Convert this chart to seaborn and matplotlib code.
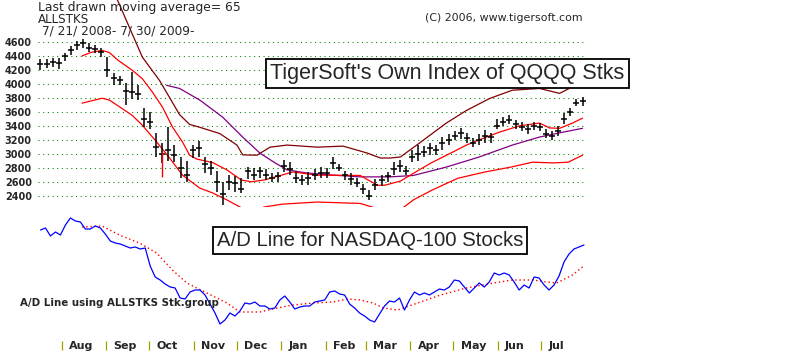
import pandas as pd
import matplotlib
matplotlib.use("Agg")
import matplotlib.pyplot as plt
import matplotlib.dates as mdates
import seaborn as sns

# --- price bars of the ALLSTKS index (about every 3 trading days) ---
bar_start, bar_end = '2008-07-17', '2009-07-30'
bar_close = [4280, 4290, 4310, 4300, 4400, 4480, 4560, 4580, 4520, 4500,
             4450, 4200, 4080, 4050, 3900, 3880, 3850, 3500, 3450, 3100,
             3000, 3050, 2980, 2800, 2700, 3050, 3080, 2850, 2800, 2600,
             2420, 2600, 2580, 2500, 2750, 2700, 2750, 2700, 2650, 2680,
             2820, 2780, 2650, 2620, 2650, 2700, 2730, 2720, 2870, 2800,
             2700, 2640, 2580, 2500, 2400, 2560, 2620, 2680, 2780, 2820,
             2750, 2950, 3000, 3030, 3080, 3050, 3150, 3200, 3260, 3300,
             3220, 3150, 3200, 3250, 3240, 3400, 3450, 3480, 3420, 3380,
             3350, 3400, 3380, 3280, 3250, 3330, 3500, 3600, 3720, 3750]
bar_high = [4350, 4360, 4370, 4370, 4440, 4540, 4620, 4650, 4580, 4560,
            4520, 4380, 4150, 4120, 4020, 4170, 3980, 3650, 3600, 3300,
            3150, 3380, 3120, 2950, 2900, 3120, 3190, 2950, 2900, 2750,
            2600, 2700, 2680, 2650, 2810, 2790, 2810, 2780, 2720, 2740,
            2910, 2880, 2760, 2700, 2740, 2780, 2810, 2790, 2950, 2860,
            2760, 2720, 2660, 2570, 2480, 2640, 2700, 2740, 2880, 2910,
            2820, 3050, 3120, 3110, 3150, 3130, 3240, 3280, 3330, 3370,
            3300, 3230, 3280, 3340, 3300, 3500, 3520, 3550, 3480, 3450,
            3430, 3460, 3440, 3350, 3320, 3400, 3580, 3660, 3790, 3820]
bar_low = [4200, 4230, 4240, 4220, 4330, 4420, 4490, 4510, 4460, 4440,
           4390, 4100, 3990, 3980, 3700, 3780, 3770, 3380, 3350, 2950,
           2870, 2900, 2880, 2650, 2600, 2940, 2950, 2720, 2700, 2450,
           2270, 2480, 2460, 2440, 2640, 2620, 2650, 2620, 2600, 2600,
           2740, 2700, 2580, 2550, 2560, 2620, 2650, 2650, 2780, 2750,
           2620, 2560, 2520, 2430, 2340, 2480, 2540, 2600, 2700, 2740,
           2700, 2880, 2900, 2960, 2990, 2980, 3060, 3120, 3200, 3210,
           3150, 3100, 3120, 3150, 3160, 3350, 3400, 3420, 3360, 3320,
           3290, 3340, 3320, 3230, 3200, 3260, 3420, 3540, 3680, 3680]

# red key-day bar
red_bar_date = ['2008-10-10']
red_bar_high = [3030]
red_bar_low = [2670]

# --- moving average and bands ---
ma_fast_dates = ['2008-08-15', '2008-08-21', '2008-08-29', '2008-09-03', '2008-09-09',
                 '2008-09-19', '2008-09-26', '2008-10-03', '2008-10-10', '2008-10-17',
                 '2008-10-24', '2008-10-29', '2008-11-03', '2008-11-14', '2008-11-24',
                 '2008-12-04', '2008-12-11', '2008-12-20', '2009-01-02', '2009-01-09',
                 '2009-01-26', '2009-02-25', '2009-03-09', '2009-03-14', '2009-03-25',
                 '2009-04-03', '2009-04-15', '2009-04-30', '2009-05-10', '2009-05-24',
                 '2009-06-02', '2009-06-16', '2009-06-30', '2009-07-07', '2009-07-14',
                 '2009-07-23', '2009-07-30']
ma_fast = [4400, 4450, 4480, 4450, 4340, 4195, 4075, 3885, 3670, 3385,
           3170, 2980, 2925, 2875, 2770, 2625, 2600, 2625, 2700, 2740,
           2695, 2690, 2550, 2550, 2610, 2720, 2865, 3020, 3125, 3240,
           3310, 3400, 3440, 3370, 3365, 3440, 3510]

ma_low_dates = ['2008-08-15', '2008-08-29', '2008-09-03', '2008-09-19', '2008-09-26',
                '2008-10-06', '2008-10-15', '2008-10-24', '2008-11-05', '2008-11-14',
                '2008-11-24', '2008-12-03', '2008-12-10', '2008-12-20', '2009-01-02',
                '2009-01-26', '2009-02-25', '2009-03-05', '2009-03-15', '2009-03-25',
                '2009-04-03', '2009-04-16', '2009-05-04', '2009-05-23', '2009-06-10',
                '2009-06-25', '2009-07-10', '2009-07-20', '2009-07-30']
ma_low = [3725, 3795, 3770, 3550, 3410, 3170, 2940, 2695, 2510, 2440,
          2340, 2240, 2150, 2240, 2280, 2310, 2290, 2240, 2180, 2200,
          2340, 2480, 2650, 2740, 2810, 2880, 2870, 2880, 2980]

ma_up_dates = ['2008-09-07', '2008-09-26', '2008-10-08', '2008-10-22', '2008-10-29',
               '2008-11-05', '2008-11-19', '2008-12-01', '2008-12-05', '2008-12-15',
               '2008-12-24', '2009-01-05', '2009-01-26', '2009-02-13', '2009-03-02',
               '2009-03-11', '2009-03-18', '2009-03-25', '2009-04-07', '2009-04-26',
               '2009-05-10', '2009-05-26', '2009-06-11', '2009-06-30', '2009-07-14',
               '2009-07-25', '2009-07-30']
ma_up = [5280, 4385, 4050, 3560, 3420, 3380, 3290, 3125, 2985, 2980,
         3095, 3125, 3095, 3110, 3010, 2940, 2940, 2955, 3150, 3440,
         3620, 3790, 3910, 3935, 3865, 3980, 4050]

ma65_dates = ['2008-10-13', '2008-10-22', '2008-11-05', '2008-11-21', '2008-12-05',
              '2008-12-17', '2008-12-28', '2009-01-05', '2009-01-19', '2009-02-06',
              '2009-02-25', '2009-03-18', '2009-04-03', '2009-04-26', '2009-05-19',
              '2009-06-11', '2009-06-30', '2009-07-14', '2009-07-30']
ma65 = [3980, 3935, 3770, 3525, 3240, 3010, 2865, 2770, 2725, 2695,
        2670, 2670, 2690, 2810, 2955, 3125, 3240, 3300, 3365]

# --- A/D line (relative level, no scale on the chart) ---
ad_start, ad_end = '2008-07-17', '2009-07-31'
ad_line = [110, 112, 104, 108, 105, 115, 122, 119, 118, 111,
           111, 114, 112, 106, 99, 97, 96, 94, 92, 93,
           91, 92, 74, 63, 60, 56, 53, 52, 42, 41,
           48, 50, 50, 45, 36, 27, 16, 20, 27, 24,
           29, 37, 36, 38, 34, 34, 31, 32, 40, 44,
           38, 31, 33, 34, 34, 38, 39, 40, 48, 49,
           46, 45, 36, 32, 27, 24, 20, 18, 26, 34,
           39, 38, 42, 30, 40, 48, 45, 47, 45, 48,
           51, 50, 53, 60, 59, 53, 47, 52, 57, 53,
           58, 67, 65, 67, 65, 58, 50, 55, 52, 63,
           62, 55, 50, 55, 64, 78, 86, 91, 93, 95]

ad_ma_dates = ['2008-08-15', '2008-08-29', '2008-09-10', '2008-09-24', '2008-10-06',
               '2008-10-17', '2008-10-27', '2008-11-10', '2008-11-24', '2008-12-03',
               '2008-12-17', '2008-12-29', '2009-01-09', '2009-01-23', '2009-02-06',
               '2009-02-16', '2009-02-25', '2009-03-06', '2009-03-13', '2009-03-23',
               '2009-04-08', '2009-04-22', '2009-05-10', '2009-05-29', '2009-06-11',
               '2009-06-25', '2009-07-05', '2009-07-12', '2009-07-23', '2009-07-30']
ad_ma = [113, 114, 105, 97, 87, 70, 57, 47, 37, 28,
         28, 32, 35, 37, 38, 41, 40, 37, 32, 30,
         38, 45, 52, 57, 60, 60, 58, 57, 65, 73]

price_ticks = [2400, 2600, 2800, 3000, 3200, 3400, 3600, 3800, 4000, 4200, 4400, 4600]
month_starts = pd.date_range('2008-08-01', '2009-07-01', freq='MS')
month_labels = ['Aug', 'Sep', 'Oct', 'Nov', 'Dec', 'Jan', 'Feb', 'Mar', 'Apr', 'May', 'Jun', 'Jul']

bar_dates = pd.date_range(bar_start, bar_end, periods=len(bar_close))
ad_dates = pd.date_range(ad_start, ad_end, periods=len(ad_line))

sns.set_style('white')
plt.rcParams['font.family'] = ['DejaVu Sans']

W, H = 800, 352
fig = plt.figure(figsize=(W / 100, H / 100), dpi=100)

# x scale: Aug 1 at px 62, 1.434 px per day, axes start at px 36
base = mdates.date2num(pd.Timestamp('2008-08-01'))
xlim = (base - 26 / 1.434, base + (W - 62) / 1.434)
left = 36 / W

ax = fig.add_axes([left, 1 - 207 / H, 1 - left, 207 / H])
ax2 = fig.add_axes([left, 0, 1 - left, 140 / H])

# top panel
ax.hlines(price_ticks, pd.Timestamp('2008-07-15'), pd.Timestamp('2009-07-31'),
          colors='#008000', linewidth=0.75, linestyles=(0, (1, 3.5)))
sns.lineplot(x=pd.to_datetime(ma_up_dates), y=ma_up, ax=ax, color='#800000', linewidth=0.9)
sns.lineplot(x=pd.to_datetime(ma65_dates), y=ma65, ax=ax, color='#800080', linewidth=0.9)
sns.lineplot(x=pd.to_datetime(ma_low_dates), y=ma_low, ax=ax, color='#ff0000', linewidth=0.9)
sns.lineplot(x=pd.to_datetime(ma_fast_dates), y=ma_fast, ax=ax, color='#ff0000', linewidth=0.9)
ax.vlines(bar_dates, bar_low, bar_high, colors='black', linewidth=1.1)
ax.plot(bar_dates, bar_close, linestyle='none', marker='_', markersize=5,
        markeredgewidth=1.1, color='black')
ax.vlines(pd.to_datetime(red_bar_date), red_bar_low, red_bar_high, colors='#ff0000', linewidth=1.0)

ax.set_xlim(xlim)
ax.set_ylim(4600 - 165 * 14.31, 4600 + 42 * 14.31)
ax.set_yticks(price_ticks)
ax.set_yticklabels([str(t) for t in price_ticks], fontsize=7, fontweight='bold')
ax.tick_params(axis='y', length=0, pad=3)
ax.set_xticks([])
ax.set_xlabel('')
ax.set_ylabel('')
sns.despine(ax=ax, left=True, bottom=True)

# bottom panel
sns.lineplot(x=pd.to_datetime(ad_ma_dates), y=ad_ma, ax=ax2, color='#ff0000',
             linewidth=1.0, linestyle=(0, (1, 2)))
sns.lineplot(x=ad_dates, y=ad_line, ax=ax2, color='#0000ff', linewidth=0.9)
ax2.set_xlim(xlim)
ax2.set_ylim(-12, 128)
ax2.set_xticks([])
ax2.set_yticks([])
ax2.set_xlabel('')
ax2.set_ylabel('')
sns.despine(ax=ax2, left=True, bottom=True)

for d, lab in zip(month_starts, month_labels):
    ax2.vlines(d, -10, -1, colors='#a0a000', linewidth=0.9)
    ax2.text(d + pd.Timedelta(days=5), -6, lab, fontsize=8, fontweight='bold',
             ha='left', va='center')

# texts
fig.text(38 / W, 1 - 7.5 / H, 'Last drawn moving average= 65', fontsize=8.9, va='center')
fig.text(38 / W, 1 - 19.5 / H, 'ALLSTKS', fontsize=8.6, va='center')
fig.text(42 / W, 1 - 31 / H, '7/ 21/ 2008- 7/ 30/ 2009-', fontsize=8.7, va='center')
fig.text(425 / W, 1 - 18 / H, '(C) 2006, www.tigersoft.com', fontsize=7.9, va='center')
fig.text(20 / W, 1 - 303 / H, 'A/D Line using ALLSTKS Stk.group', fontsize=7.4,
         fontweight='bold', va='center')

box = dict(boxstyle='square,pad=0.18', facecolor='white', edgecolor='black', linewidth=1.3)
fig.text(447.5 / W, 1 - 73.5 / H, "TigerSoft's Own Index of QQQQ Stks",
         family='Liberation Sans', fontsize=15.5, ha='center', va='center', bbox=box)
fig.text(370 / W, 1 - 240.5 / H, 'A/D Line for NASDAQ-100 Stocks',
         family='Liberation Sans', fontsize=14.7, ha='center', va='center', bbox=box)

fig.savefig('out.png', dpi=100)
